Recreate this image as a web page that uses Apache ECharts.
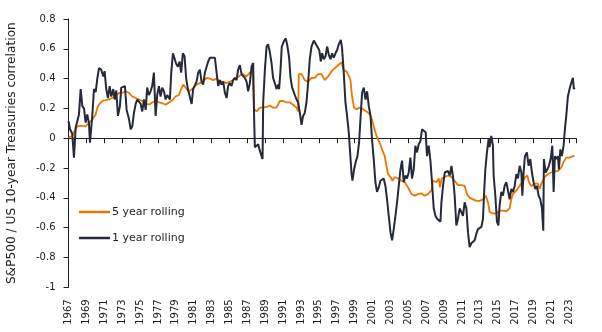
<!DOCTYPE html>
<html><head><meta charset="utf-8">
<script src="https://cdn.jsdelivr.net/npm/echarts@6/dist/echarts.min.js"></script>
<style>html,body{margin:0;padding:0;background:#fff}#c{width:602px;height:332px}</style>
</head><body><div id="c"></div>
<script>
const BASE_YEAR = 1967;
const xTickLabels = ['1967','1969','1971','1973','1975','1977','1979','1981','1983','1985','1987','1989','1991','1993','1995','1997','1999','2001','2003','2005','2007','2009','2011','2013','2015','2017','2019','2021','2023'];
const yTickLabels = ['-1','-0.8','-0.6','-0.4','-0.2','0','0.2','0.4','0.6','0.8'];
const seriesNames = ['5 year rolling', '1 year rolling'];

// 1 year rolling correlation
const years1 = [
1967.0,1967.17,1967.42,1967.61,1967.80,1967.98,1968.17,1968.36,1968.54,1968.73,1968.92,1969.10,1969.29,1969.40,1969.66,1969.85,
1970.04,1970.22,1970.41,1970.66,1970.89,1971.04,1971.22,1971.41,1971.60,1971.78,1972.01,1972.16,1972.34,1972.53,1972.75,1972.90,
1973.12,1973.31,1973.50,1973.76,1973.95,1974.13,1974.32,1974.51,1974.69,1974.88,1975.07,1975.25,1975.44,1975.63,1975.80,1975.99,
1976.18,1976.36,1976.55,1976.74,1976.92,1977.11,1977.30,1977.48,1977.67,1977.86,1978.04,1978.34,1978.49,1978.68,1978.87,1979.04,
1979.23,1979.42,1979.60,1979.79,1979.98,1980.16,1980.35,1980.54,1980.77,1980.94,1981.13,1981.32,1981.50,1981.69,1981.88,1982.06,
1982.25,1982.44,1982.62,1982.81,1983.11,1983.37,1983.56,1983.74,1983.93,1984.12,1984.30,1984.49,1984.68,1984.85,1985.04,1985.23,
1985.41,1985.60,1985.79,1985.97,1986.16,1986.35,1986.53,1986.72,1986.91,1987.09,1987.28,1987.47,1987.65,1987.76,1987.84,1988.03,
1988.21,1988.40,1988.59,1988.70,1988.77,1988.96,1989.15,1989.32,1989.51,1989.70,1989.88,1990.07,1990.26,1990.44,1990.55,1990.71,
1990.85,1991.08,1991.30,1991.49,1991.67,1991.83,1992.01,1992.20,1992.31,1992.50,1992.68,1992.87,1993.06,1993.23,1993.42,1993.61,
1993.79,1993.98,1994.17,1994.43,1994.65,1994.91,1995.05,1995.21,1995.36,1995.55,1995.74,1995.92,1996.11,1996.30,1996.47,1996.66,
1996.85,1997.03,1997.22,1997.45,1997.59,1997.78,1997.97,1998.15,1998.34,1998.49,1998.64,1998.75,1998.93,1999.12,1999.31,1999.49,
1999.65,1999.83,2000.02,2000.21,2000.39,2000.58,2000.77,2000.94,2001.13,2001.32,2001.50,2001.69,2001.88,2002.06,2002.25,2002.44,
2002.62,2002.81,2003.00,2003.18,2003.37,2003.56,2003.74,2003.93,2004.12,2004.30,2004.49,2004.68,2004.85,2005.04,2005.23,2005.41,
2005.60,2005.79,2005.97,2006.16,2006.35,2006.53,2006.75,2006.94,2007.09,2007.28,2007.47,2007.65,2007.84,2008.03,2008.21,2008.40,
2008.59,2008.70,2008.88,2009.07,2009.26,2009.44,2009.63,2009.82,2010.00,2010.18,2010.37,2010.55,2010.74,2010.93,2011.11,2011.30,
2011.49,2011.67,2011.86,2012.05,2012.23,2012.42,2012.61,2012.79,2012.98,2013.17,2013.35,2013.46,2013.61,2013.79,2013.98,2014.09,
2014.28,2014.46,2014.54,2014.73,2014.91,2015.07,2015.21,2015.40,2015.58,2015.77,2015.96,2016.14,2016.33,2016.52,2016.70,2016.89,
2017.08,2017.26,2017.45,2017.64,2017.75,2017.89,2018.04,2018.26,2018.45,2018.64,2018.82,2019.01,2019.20,2019.38,2019.57,2019.76,
2019.94,2020.09,2020.16,2020.35,2020.54,2020.72,2020.91,2021.10,2021.25,2021.39,2021.55,2021.73,2021.84,2022.00,2022.17,2022.36,
2022.51,2022.66,2022.84,2023.03,2023.22,2023.40,2023.51,2023.60
];
const vals1 = [
0.115,0.06,0.03,-0.13,0.07,0.06,0.16,0.33,0.215,0.2,0.105,0.16,0.1,-0.03,0.15,0.33,
0.31,0.4,0.47,0.46,0.415,0.45,0.33,0.27,0.35,0.28,0.33,0.26,0.32,0.15,0.215,0.34,
0.33,0.35,0.19,0.13,0.06,0.08,0.17,0.23,0.26,0.27,0.23,0.18,0.26,0.19,0.34,0.29,
0.315,0.35,0.44,0.15,0.29,0.35,0.28,0.34,0.315,0.26,0.29,0.26,0.44,0.57,0.58,0.5,
0.48,0.515,0.44,0.57,0.55,0.4,0.33,0.34,0.23,0.33,0.34,0.38,0.44,0.46,0.38,0.36,
0.44,0.48,0.515,0.54,0.54,0.54,0.44,0.35,0.39,0.36,0.38,0.305,0.27,0.35,0.37,0.35,
0.39,0.405,0.39,0.46,0.49,0.43,0.44,0.405,0.38,0.315,0.37,0.48,0.505,0.13,-0.06,-0.05,
-0.04,-0.085,-0.12,-0.14,0.24,0.46,0.615,0.63,0.58,0.505,0.405,0.37,0.33,0.36,0.33,0.46,
0.615,0.65,0.67,0.615,0.54,0.405,0.34,0.35,0.29,0.26,0.24,0.17,0.09,0.15,0.17,0.24,
0.37,0.53,0.615,0.655,0.66,0.605,0.59,0.515,0.57,0.53,0.55,0.615,0.56,0.53,0.57,0.54,
0.57,0.59,0.63,0.66,0.605,0.44,0.24,0.15,0.04,-0.095,-0.23,-0.285,-0.21,-0.16,-0.12,-0.03,
0.13,0.305,0.34,0.26,0.315,0.215,0.15,-0.005,-0.14,-0.295,-0.36,-0.33,-0.285,-0.295,-0.27,-0.32,
-0.41,-0.52,-0.63,-0.685,-0.61,-0.52,-0.43,-0.32,-0.21,-0.15,-0.295,-0.25,-0.27,-0.23,-0.13,-0.27,
-0.21,-0.05,-0.095,-0.04,-0.02,0.06,0.07,0.04,-0.12,-0.05,-0.15,-0.295,-0.47,-0.52,-0.54,-0.55,
-0.56,-0.43,-0.32,-0.23,-0.24,-0.22,-0.25,-0.185,-0.26,-0.385,-0.585,-0.54,-0.47,-0.495,-0.52,-0.43,
-0.47,-0.63,-0.73,-0.705,-0.705,-0.685,-0.64,-0.61,-0.62,-0.595,-0.54,-0.385,-0.21,-0.095,-0.005,-0.06,
0.015,-0.05,-0.25,-0.385,-0.56,-0.585,-0.45,-0.36,-0.385,-0.32,-0.295,-0.35,-0.41,-0.34,-0.36,-0.32,
-0.24,-0.27,-0.185,-0.23,-0.385,-0.23,-0.12,-0.095,-0.185,-0.14,-0.23,-0.295,-0.34,-0.32,-0.385,-0.41,
-0.47,-0.62,-0.14,-0.23,-0.21,-0.185,-0.14,-0.05,-0.36,-0.12,-0.14,-0.12,-0.21,-0.075,-0.12,-0.05,
0.06,0.15,0.28,0.33,0.37,0.405,0.33,0.34
];

// 5 year rolling correlation
const years5 = [
1967.0,1967.42,1967.61,1967.98,1968.36,1968.54,1968.92,1969.29,1969.66,1970.04,1970.22,1970.41,1970.78,1971.16,1971.53,1971.89,
1972.27,1972.64,1973.01,1973.39,1973.76,1974.13,1974.51,1974.88,1975.25,1975.63,1975.99,1976.36,1976.74,1977.11,1977.48,1977.86,
1978.23,1978.60,1978.98,1979.35,1979.60,1979.83,1980.09,1980.46,1980.83,1981.32,1981.69,1982.06,1982.44,1982.81,1983.18,1983.56,
1983.93,1984.30,1984.68,1985.04,1985.41,1985.79,1986.16,1986.53,1986.91,1987.28,1987.58,1987.70,1987.76,1988.03,1988.40,1988.77,
1989.15,1989.51,1989.88,1990.26,1990.63,1991.00,1991.38,1991.75,1992.12,1992.50,1992.68,1992.75,1993.06,1993.42,1993.79,1994.17,
1994.54,1994.91,1995.29,1995.66,1996.03,1996.41,1996.78,1997.15,1997.53,1997.82,1998.08,1998.26,1998.53,1998.71,1998.93,1999.20,
1999.57,1999.94,2000.32,2000.69,2000.94,2001.13,2001.32,2001.50,2001.80,2002.06,2002.36,2002.55,2002.73,2003.00,2003.22,2003.48,
2003.85,2004.23,2004.60,2004.97,2005.35,2005.72,2006.08,2006.46,2006.83,2007.20,2007.58,2007.76,2008.14,2008.40,2008.55,2008.72,
2009.07,2009.44,2009.82,2010.18,2010.55,2010.93,2011.30,2011.56,2011.86,2012.23,2012.61,2012.98,2013.35,2013.65,2013.91,2014.09,
2014.46,2014.84,2015.21,2015.58,2015.96,2016.33,2016.52,2016.70,2017.08,2017.45,2017.82,2018.08,2018.31,2018.49,2018.75,2019.12,
2019.49,2019.68,2019.87,2020.24,2020.61,2020.99,2021.36,2021.73,2022.11,2022.36,2022.66,2023.03,2023.40,2023.60
];
const vals5 = [
0.005,0.015,0.04,0.08,0.085,0.08,0.08,0.105,0.125,0.16,0.205,0.225,0.25,0.255,0.26,0.27,
0.28,0.305,0.305,0.315,0.305,0.28,0.27,0.26,0.25,0.235,0.225,0.24,0.25,0.24,0.235,0.225,
0.24,0.255,0.28,0.29,0.33,0.36,0.34,0.315,0.33,0.36,0.37,0.38,0.405,0.4,0.39,0.4,
0.38,0.38,0.37,0.38,0.39,0.405,0.42,0.43,0.415,0.44,0.45,0.45,0.195,0.18,0.205,0.205,
0.21,0.22,0.205,0.205,0.25,0.25,0.24,0.24,0.225,0.205,0.18,0.43,0.43,0.39,0.38,0.405,
0.405,0.43,0.43,0.39,0.415,0.45,0.47,0.49,0.51,0.45,0.45,0.43,0.39,0.28,0.205,0.195,
0.205,0.195,0.18,0.16,0.125,0.08,0.04,0.005,-0.03,-0.075,-0.12,-0.185,-0.24,-0.26,-0.285,-0.26,
-0.27,-0.285,-0.295,-0.33,-0.375,-0.385,-0.375,-0.37,-0.385,-0.375,-0.35,-0.285,-0.295,-0.27,-0.33,-0.27,
-0.26,-0.25,-0.26,-0.285,-0.315,-0.315,-0.32,-0.375,-0.4,-0.41,-0.42,-0.42,-0.41,-0.385,-0.43,-0.495,
-0.505,-0.505,-0.485,-0.485,-0.49,-0.47,-0.41,-0.375,-0.35,-0.32,-0.285,-0.26,-0.25,-0.295,-0.32,-0.305,
-0.305,-0.34,-0.305,-0.26,-0.24,-0.23,-0.22,-0.22,-0.195,-0.16,-0.13,-0.13,-0.12,-0.12
];

const toPoints = (ys, vs) => ys.map((y, i) => [y - BASE_YEAR, vs[i]]);
const FONT = 'DejaVu Sans';
const TXT = '#1e1e1e';
const ORANGE = '#EE7600';
const NAVY = '#252A3A';

const chart = echarts.init(document.getElementById('c'), null, {renderer: 'canvas'});
chart.setOption({
  animation: false,
  backgroundColor: '#ffffff',
  grid: {left: 68.5, top: 19, right: 26, bottom: 44.7, outerBoundsMode: 'none', containLabel: false},
  legend: {
    show: true,
    data: [
      {name: seriesNames[0], icon: 'rect', itemStyle: {color: ORANGE}},
      {name: seriesNames[1], icon: 'rect', itemStyle: {color: NAVY}}
    ],
    orient: 'vertical',
    left: 79, top: 205,
    padding: 0,
    itemWidth: 31, itemHeight: 2.5, itemGap: 12,
    textStyle: {fontFamily: FONT, fontSize: 11, color: TXT, lineHeight: 14, padding: [0, 0, 0, -3]}
  },
  xAxis: [
    {
      type: 'value', min: 0, max: 56.75, interval: 2, position: 'bottom',
      axisLine: {show: false, onZero: false},
      axisTick: {show: false},
      splitLine: {show: false},
      axisLabel: {
        rotate: 90, margin: 12, fontFamily: FONT, fontSize: 10, color: TXT,
        formatter: v => (Number.isInteger(v) && xTickLabels[v / 2] !== undefined) ? xTickLabels[v / 2] : ''
      }
    },
    {
      type: 'value', min: 0, max: 56.75, interval: 2, position: 'bottom',
      axisLine: {show: true, onZero: true, lineStyle: {color: '#1e1e1e', width: 1}},
      axisTick: {show: true, inside: false, length: 5, lineStyle: {color: '#1e1e1e', width: 1}},
      axisLabel: {show: false},
      splitLine: {show: false}
    }
  ],
  yAxis: {
    type: 'value', min: -1, max: 0.8, interval: 0.2,
    name: 'S&P500 / US 10-year Treasuries correlation',
    nameLocation: 'middle', nameRotate: 90, nameGap: 51,
    nameTextStyle: {fontFamily: FONT, fontSize: 12.2, color: TXT},
    axisLine: {show: true, lineStyle: {color: '#1e1e1e', width: 1}},
    axisTick: {show: true, inside: false, length: 5, lineStyle: {color: '#1e1e1e', width: 1}},
    splitLine: {show: false},
    axisLabel: {
      margin: 13, fontFamily: FONT, fontSize: 10, color: TXT,
      formatter: v => yTickLabels[Math.round((v + 1) / 0.2)]
    }
  },
  series: [
    {
      name: seriesNames[0], type: 'line', xAxisIndex: 0, symbol: 'none', smooth: false,
      data: toPoints(years5, vals5),
      lineStyle: {color: ORANGE, width: 1.8}, itemStyle: {color: ORANGE}, z: 2
    },
    {
      name: seriesNames[1], type: 'line', xAxisIndex: 0, symbol: 'none', smooth: false,
      data: toPoints(years1, vals1),
      lineStyle: {color: NAVY, width: 2}, itemStyle: {color: NAVY}, z: 3
    }
  ]
});
</script>
</body></html>
